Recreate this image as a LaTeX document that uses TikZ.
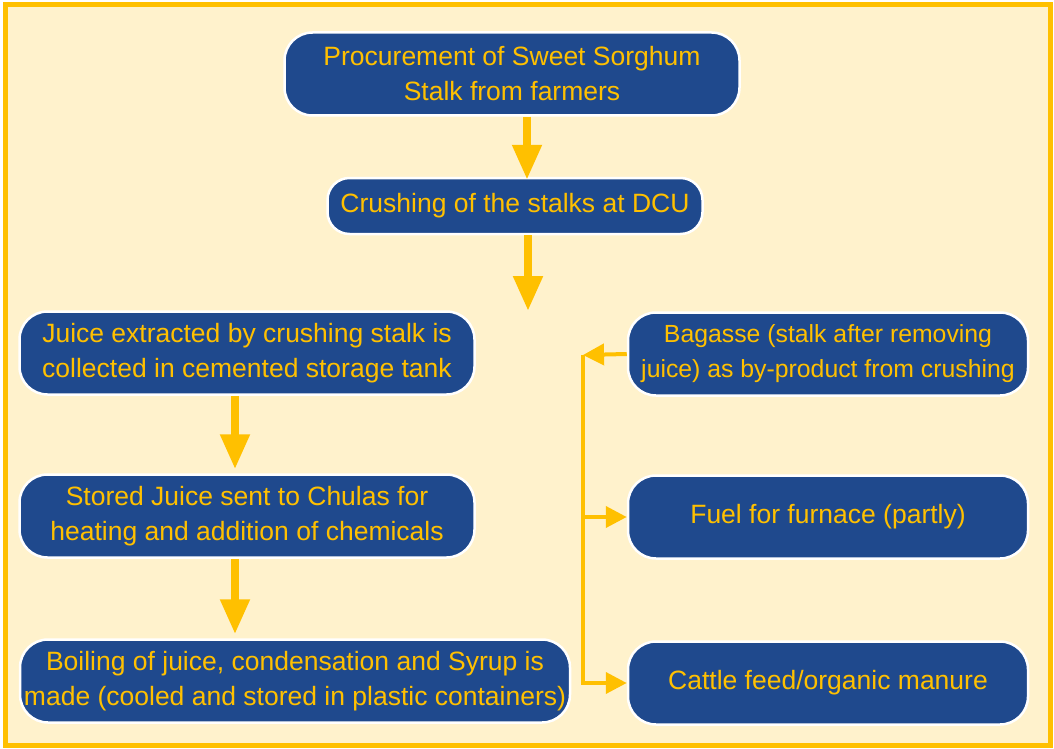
\documentclass[tikz,border=0pt]{standalone}
\usepackage{fontspec}
\setmainfont{Liberation Sans}
\usetikzlibrary{arrows.meta,positioning}
\definecolor{navy}{RGB}{31,73,141}
\definecolor{gold}{RGB}{255,192,0}
\definecolor{cream}{RGB}{255,242,204}

\begin{document}
\begin{tikzpicture}[x=1pt,y=-1pt,
  box/.style={draw=white,line width=2.5pt,fill=navy,text=gold,rounded corners=28pt,
    align=center,minimum width=455pt,minimum height=83pt,inner sep=0pt,
    font=\fontsize{26.5}{35}\selectfont},
  bigarrow/.style={draw=gold,line width=8pt,-{Triangle[width=28pt,length=35pt]}},
  smallarrow/.style={draw=gold,line width=4pt,-{Triangle[width=21pt,length=21pt]}}]
  \useasboundingbox (0,0) rectangle (1054,749);
  \draw[gold,line width=5pt,fill=cream] (5,5) rectangle (1050,745);

  % main line
  \node[box] (proc) at (512,74) {Procurement of Sweet Sorghum\\Stalk from farmers};
  \node[box,minimum width=375pt,minimum height=56pt,rounded corners=22pt] (crush) at (515,206) {Crushing of the stalks at DCU};
  \coordinate (split) at (528,311);

  % juice side
  \node[box] (juice) at (247,353) {Juice extracted by crushing stalk is\\collected in cemented storage tank};
  \node[box] (stored) at (247,516) {Stored Juice sent to Chulas for\\heating and addition of chemicals};
  \node[box,minimum width=550pt] (boil) at (295,681) {Boiling of juice, condensation and Syrup is\\made (cooled and stored in plastic containers)};

  % bagasse side
  \node[box,minimum width=400pt,font=\fontsize{24.8}{35}\selectfont] (bagasse) at (828,354) {Bagasse (stalk after removing\\juice) as by-product from crushing};
  \node[box,minimum width=400pt] (fuel) at (828,517) {Fuel for furnace (partly)};
  \node[box,minimum width=400pt] (cattle) at (828,683) {Cattle feed/organic manure};
  \coordinate (bus) at (583,355);

  \draw[bigarrow] ([xshift=15pt]proc.south) -- ([xshift=12pt,yshift=-3pt]crush.north);
  \draw[bigarrow] ([xshift=13pt]crush.south) -- (split);
  \draw[bigarrow,shorten >=4pt] ([xshift=-12pt]juice.south) -- ([xshift=-12pt]stored.north);
  \draw[bigarrow,shorten >=4pt] ([xshift=-12pt]stored.south) -- ([xshift=-60pt]boil.north);
  \draw[smallarrow] (bagasse.west) -- (bus);
  \draw[smallarrow] (bus) -- (bus |- cattle.west) -- (cattle.west);
  \draw[smallarrow] (bus |- fuel.west) -- (fuel.west);
\end{tikzpicture}
\end{document}
